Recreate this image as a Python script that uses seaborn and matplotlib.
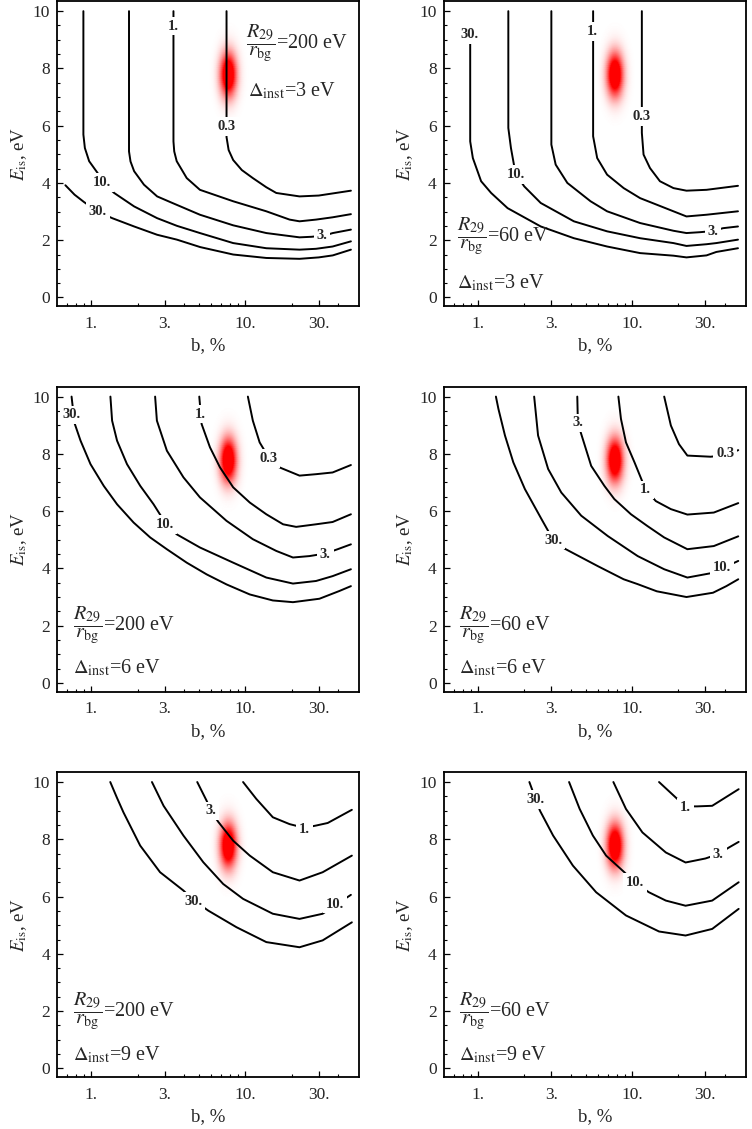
import numpy as np
import matplotlib
matplotlib.use("Agg")
import matplotlib.pyplot as plt
from matplotlib.colors import LinearSegmentedColormap
from matplotlib.ticker import FixedLocator, FixedFormatter, NullFormatter
import seaborn as sns

# estilo
sns.set_style("ticks")
plt.rcParams['font.family'] = ['Liberation Serif', 'DejaVu Serif']
plt.rcParams['mathtext.fontset'] = 'stix'
plt.rcParams['xtick.direction'] = 'in'
plt.rcParams['ytick.direction'] = 'in'
plt.rcParams['axes.edgecolor'] = 'black'

# parametros de cada painel (linha a linha)
R_over_r = [200, 60, 200, 60, 200, 60]
delta_inst = [3, 3, 6, 6, 9, 9]

# ponto do ajuste (mancha vermelha)
fit_b = 7.8
fit_E = 7.8

# curvas de nivel: (b %, E_is eV)
# painel 1: 200 eV, 3 eV
p1_30 = [(0.68, 3.92), (0.78, 3.59), (0.90, 3.33), (1.10, 3.00), (1.37, 2.77), (1.90, 2.48),
         (2.68, 2.19), (3.6, 2.02), (5.1, 1.76), (8.35, 1.50), (13.7, 1.38), (22.5, 1.35),
         (30.0, 1.40), (37.0, 1.47), (48.5, 1.67)]
p1_10 = [(0.89, 10.0), (0.89, 5.69), (0.91, 5.22), (0.97, 4.76), (1.10, 4.35), (1.17, 4.05),
         (1.41, 3.65), (1.90, 3.18), (2.68, 2.77), (3.61, 2.50), (5.08, 2.25), (8.35, 1.90),
         (13.7, 1.72), (22.5, 1.67), (28.8, 1.70), (36.9, 1.78), (48.5, 1.96)]
p1_3 = [(1.76, 10.0), (1.76, 5.10), (1.80, 4.75), (1.90, 4.41), (2.20, 3.94), (2.68, 3.53),
        (3.3, 3.32), (5.08, 2.89), (8.35, 2.52), (13.7, 2.25), (22.5, 2.10), (27.0, 2.12),
        (33.0, 2.17), (37.0, 2.25), (48.5, 2.37)]
p1_1 = [(3.42, 10.0), (3.42, 5.45), (3.46, 5.10), (3.59, 4.76), (4.17, 4.17), (5.08, 3.76),
        (8.35, 3.36), (13.7, 3.01), (19.4, 2.72), (22.5, 2.66), (28.8, 2.72), (36.9, 2.80),
        (48.5, 2.91)]
p1_03 = [(7.56, 10.0), (7.56, 5.60), (7.8, 5.15), (8.35, 4.80), (9.5, 4.45), (11.2, 4.17),
         (13.7, 3.85), (15.9, 3.65), (22.5, 3.53), (30.0, 3.56), (48.5, 3.73)]
p1_lab = {"30.": (1.10, 3.00), "10.": (1.17, 4.02), "3.": (31.5, 2.15),
          "1.": (3.42, 9.48), "0.3": (7.56, 5.98)}

# painel 2: 60 eV, 3 eV
p2_30 = [(0.892, 9.2), (0.892, 5.45), (0.928, 4.87), (1.05, 4.06), (1.22, 3.65), (1.56, 3.12),
         (2.56, 2.48), (4.2, 2.07), (6.9, 1.78), (11.3, 1.55), (18.6, 1.46), (22.6, 1.40),
         (30.5, 1.47), (35.3, 1.59), (48.8, 1.72)]
p2_10 = [(1.577, 10.0), (1.577, 5.92), (1.64, 5.22), (1.72, 4.60), (1.85, 4.15), (2.0, 3.88),
         (2.56, 3.30), (4.2, 2.66), (6.9, 2.31), (11.3, 2.07), (18.6, 1.90), (22.6, 1.80),
         (30.5, 1.86), (35.3, 1.90), (48.8, 2.02)]
p2_3 = [(3.0, 10.0), (3.0, 5.34), (3.2, 4.64), (3.81, 4.0), (5.39, 3.36), (6.9, 3.01),
        (11.3, 2.60), (18.6, 2.33), (22.6, 2.25), (27.6, 2.28), (33.6, 2.32), (39.0, 2.42),
        (48.8, 2.48)]
p2_1 = [(5.6, 10.0), (5.6, 5.63), (5.95, 4.87), (6.9, 4.29), (8.84, 3.82), (11.3, 3.47),
        (14.5, 3.24), (18.6, 3.01), (22.6, 2.83), (30.5, 2.89), (48.8, 3.01)]
p2_03 = [(11.6, 10.0), (11.6, 5.75), (11.9, 4.99), (13.1, 4.52), (15.2, 4.06), (18.6, 3.82),
         (22.6, 3.73), (30.5, 3.76), (48.8, 3.90)]
p2_lab = {"30.": (0.88, 9.18), "10.": (1.77, 4.30), "3.": (33.6, 2.30),
          "1.": (5.57, 9.30), "0.3": (11.5, 6.33)}

# painel 3: 200 eV, 6 eV
p3_30 = [(0.746, 10.0), (0.78, 9.07), (0.853, 8.46), (0.99, 7.64), (1.207, 6.88), (1.472, 6.24),
         (1.886, 5.60), (2.416, 5.08), (3.097, 4.67), (4.17, 4.20), (5.62, 3.79), (7.56, 3.44),
         (10.7, 3.09), (15.1, 2.88), (20.4, 2.82), (30.3, 2.94), (40.8, 3.21), (48.5, 3.38)]
p3_10 = [(1.333, 10.0), (1.367, 9.16), (1.472, 8.46), (1.708, 7.64), (2.083, 6.88), (2.54, 6.24),
         (3.02, 5.60), (3.59, 5.19), (5.08, 4.73), (8.35, 4.20), (13.7, 3.68), (20.4, 3.47),
         (28.8, 3.56), (36.9, 3.73), (48.5, 3.97)]
p3_3 = [(2.60, 10.0), (2.67, 9.16), (3.10, 8.11), (3.97, 7.18), (5.08, 6.48), (7.56, 5.66),
        (11.2, 5.02), (15.9, 4.61), (20.4, 4.38), (26.1, 4.43), (33.1, 4.52), (39.8, 4.67),
        (48.5, 4.84)]
p3_1 = [(5.03, 10.0), (5.21, 9.04), (5.90, 8.23), (6.85, 7.53), (8.35, 6.83), (10.7, 6.30),
        (13.7, 5.89), (17.6, 5.54), (21.4, 5.45), (28.8, 5.54), (36.9, 5.62), (48.5, 5.89)]
p3_03 = [(10.4, 10.0), (11.2, 9.16), (12.4, 8.40), (14.1, 7.90), (16.3, 7.55), (22.5, 7.24),
         (28.8, 7.29), (36.9, 7.35), (48.5, 7.61)]
p3_lab = {"30.": (0.75, 9.36), "10.": (3.02, 5.52), "3.": (33.1, 4.47),
          "1.": (5.1, 9.39), "0.3": (14.1, 7.85)}

# painel 4: 60 eV, 6 eV
p4_30 = [(1.31, 10.0), (1.36, 9.57), (1.50, 8.64), (1.70, 7.70), (2.02, 6.77), (2.59, 5.72),
         (3.08, 5.0), (3.66, 4.69), (6.0, 4.08), (8.84, 3.62), (10.9, 3.45), (14.5, 3.20),
         (22.6, 3.0), (33.6, 3.15), (41.0, 3.38), (49.0, 3.62)]
p4_10 = [(2.32, 10.0), (2.46, 8.64), (2.86, 7.47), (3.48, 6.65), (4.69, 5.84), (6.97, 5.13),
         (10.9, 4.43), (16.2, 3.97), (22.9, 3.68), (32.4, 3.83), (38.5, 4.0), (49.0, 4.26)]
p4_3 = [(4.42, 10.0), (4.46, 9.08), (4.69, 8.69), (5.44, 7.58), (6.63, 6.88), (7.69, 6.42),
        (9.86, 5.89), (12.6, 5.48), (16.2, 5.08), (22.9, 4.67), (34.0, 4.78), (49.0, 5.12)]
p4_1 = [(8.17, 10.0), (8.49, 9.22), (9.15, 8.40), (10.4, 7.70), (12.3, 6.74), (14.3, 6.35),
        (17.9, 6.07), (22.9, 5.88), (34.0, 5.95), (49.0, 6.28)]
p4_03 = [(16.2, 10.0), (17.9, 8.99), (20.2, 8.34), (22.9, 7.94), (32.4, 7.90), (40.4, 7.95),
         (49.0, 8.13)]
p4_lab = {"30.": (3.08, 4.99), "10.": (38.5, 4.03), "3.": (4.46, 9.08),
          "1.": (12.3, 6.74), "0.3": (40.4, 8.0)}

# painel 5: 200 eV, 9 eV
p5_30 = [(1.33, 10.0), (1.47, 9.45), (1.62, 8.94), (2.08, 7.78), (2.80, 6.85), (3.97, 6.21),
         (4.60, 5.88), (5.75, 5.51), (8.77, 4.93), (13.7, 4.41), (22.5, 4.23), (31.8, 4.47),
         (49.2, 5.10)]
p5_10 = [(2.48, 10.0), (2.95, 9.17), (3.97, 8.13), (5.34, 7.20), (7.19, 6.44), (9.68, 5.92),
         (15.1, 5.40), (22.5, 5.22), (31.8, 5.40), (38.4, 5.70), (48.5, 6.06)]
p5_3 = [(4.88, 10.0), (5.61, 9.35), (6.04, 8.96), (6.68, 8.61), (8.35, 7.95), (10.7, 7.43),
        (15.1, 6.85), (22.5, 6.56), (31.8, 6.85), (49.2, 7.43)]
p5_1 = [(9.68, 10.0), (11.8, 9.41), (15.1, 8.77), (19.4, 8.53), (24.2, 8.40), (28.8, 8.48),
        (34.3, 8.57), (49.2, 9.03)]
p5_lab = {"30.": (4.60, 5.83), "10.": (38.4, 5.74), "3.": (5.95, 8.99), "1.": (24.2, 8.34)}

# painel 6: 60 eV, 9 eV
p6_30 = [(2.16, 10.0), (2.38, 9.38), (2.53, 9.0), (3.08, 8.13), (4.14, 7.08), (5.86, 6.15),
         (9.15, 5.34), (15.0, 4.78), (22.3, 4.64), (33.2, 4.87), (49.3, 5.57)]
p6_10 = [(3.91, 10.0), (4.58, 9.06), (5.58, 8.13), (6.80, 7.43), (8.93, 6.85), (10.5, 6.48),
         (12.9, 6.15), (16.6, 5.86), (22.3, 5.68), (33.2, 5.86), (49.3, 6.50)]
p6_3 = [(7.58, 10.0), (9.15, 9.06), (11.7, 8.24), (16.6, 7.54), (22.3, 7.19), (30.0, 7.33),
        (36.3, 7.48), (42.5, 7.71), (49.3, 7.91)]
p6_1 = [(15.0, 10.0), (19.7, 9.41), (22.3, 9.15), (26.5, 9.15), (33.2, 9.17), (49.3, 9.75)]
p6_lab = {"30.": (2.38, 9.38), "10.": (10.5, 6.48), "3.": (36.3, 7.48), "1.": (22.3, 9.11)}

curves = [
    [p1_30, p1_10, p1_3, p1_1, p1_03],
    [p2_30, p2_10, p2_3, p2_1, p2_03],
    [p3_30, p3_10, p3_3, p3_1, p3_03],
    [p4_30, p4_10, p4_3, p4_1, p4_03],
    [p5_30, p5_10, p5_3, p5_1],
    [p6_30, p6_10, p6_3, p6_1],
]
labels = [p1_lab, p2_lab, p3_lab, p4_lab, p5_lab, p6_lab]

# posicao dos textos (fracao, delta) em coordenadas do eixo
text_pos = [((0.625, 0.862), (0.632, 0.707)),
            ((0.045, 0.228), (0.045, 0.076)),
            ((0.052, 0.218), (0.052, 0.077)),
            ((0.052, 0.218), (0.052, 0.077)),
            ((0.052, 0.216), (0.052, 0.072)),
            ((0.052, 0.216), (0.052, 0.072))]

x_major = [1, 3, 10, 30]
x_major_lbl = ["1.", "3.", "10.", "30."]
x_minor = [0.7, 0.8, 0.9, 2, 4, 5, 6, 7, 8, 9, 20, 40]

# branco -> vermelho, opaco (fundo branco, linhas por cima)
blob_cmap = LinearSegmentedColormap.from_list("blob", ["white", "red"])

fig, axes = plt.subplots(3, 2, figsize=(7.52, 11.29), dpi=100)
fig.subplots_adjust(left=0.0758, right=0.992, top=0.999, bottom=0.0461,
                    wspace=0.279, hspace=0.264)

for i, ax in enumerate(axes.flat):
    ax.set_xscale('log')
    ax.set_xlim(0.6, 55)
    ax.set_ylim(-0.3, 10.35)

    # mancha do melhor ajuste (gaussiana suave)
    lc = np.log10(fit_b)
    lb = np.linspace(lc - 0.14, lc + 0.14, 161)
    ee = np.linspace(fit_E - 1.9, fit_E + 1.9, 161)
    LB, EE = np.meshgrid(lb, ee)
    Z = np.clip(1.5 * np.exp(-0.5 * ((LB - lc) / 0.036) ** 2
                             - 0.5 * ((EE - fit_E) / 0.52) ** 2), 0, 1)
    ax.pcolormesh(10 ** LB, EE, Z, cmap=blob_cmap, vmin=0, vmax=1,
                  shading='gouraud', zorder=1, rasterized=True)

    # curvas de nivel
    for pts in curves[i]:
        bs = [p[0] for p in pts]
        es = [p[1] for p in pts]
        sns.lineplot(x=bs, y=es, sort=False, estimator=None, color='black',
                     linewidth=1.4, ax=ax, zorder=2)

    for txt, (bx, ey) in labels[i].items():
        ax.text(bx, ey, txt, ha='center', va='center', fontsize=10.5, fontweight='bold',
                bbox=dict(boxstyle='square,pad=0.2', fc='white', ec='none'), zorder=3)

    (fx, fy), (dx, dy) = text_pos[i]
    ax.text(fx, fy, r'$\dfrac{R_{29}}{r_{\mathrm{bg}}}$' + f'={R_over_r[i]} eV',
            transform=ax.transAxes, fontsize=14.5, ha='left', va='center', zorder=4)
    ax.text(dx, dy, r'$\Delta_{\mathrm{inst}}$' + f'={delta_inst[i]} eV',
            transform=ax.transAxes, fontsize=14.5, ha='left', va='center', zorder=4)

    # eixos
    ax.xaxis.set_major_locator(FixedLocator(x_major))
    ax.xaxis.set_major_formatter(FixedFormatter(x_major_lbl))
    ax.xaxis.set_minor_locator(FixedLocator(x_minor))
    ax.xaxis.set_minor_formatter(NullFormatter())
    ax.set_yticks([0, 2, 4, 6, 8, 10])
    ax.set_yticks(np.arange(0, 10.01, 0.5), minor=True)
    ax.tick_params(which='major', length=4, width=0.9, labelsize=12.5, pad=5, color='black')
    ax.tick_params(which='minor', length=2.2, width=0.8, color='black')
    ax.tick_params(axis='x', which='major', pad=7)
    for sp in ax.spines.values():
        sp.set_linewidth(1.3)
        sp.set_visible(True)
    ax.set_xlabel('b, %', fontsize=13.5, labelpad=4)
    ax.set_ylabel(r'$E_{\mathrm{is}}$, eV', fontsize=13.5, labelpad=3)

plt.savefig('out.png', dpi=100)
